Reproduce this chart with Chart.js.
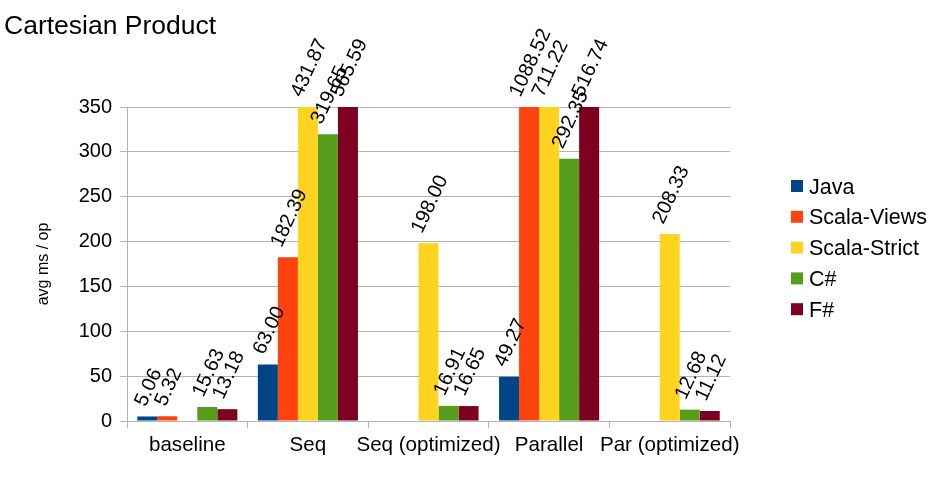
<!DOCTYPE html>
<html>
<head>
<meta charset="utf-8">
<script src="https://cdn.jsdelivr.net/npm/chart.js@4/dist/chart.umd.min.js"></script>
<style>
  html, body { margin: 0; padding: 0; background: #fff; }
  #wrap { width: 946px; height: 496px; }
</style>
</head>
<body>
<div id="wrap"><canvas id="chart" width="946" height="496"></canvas></div>
<script>
const categories = ['baseline', 'Seq', 'Seq (optimized)', 'Parallel', 'Par (optimized)'];
const seriesNames = ['Java', 'Scala-Views', 'Scala-Strict', 'C#', 'F#'];
const seriesColors = ['#004586', '#ff420e', '#ffd320', '#579d1c', '#7e0021'];
const javaValues = [5.06, 63.00, null, 49.27, null];
const scalaViewsValues = [5.32, 182.39, null, 1088.52, null];
const scalaStrictValues = [null, 431.87, 198.00, 711.22, 208.33];
const csharpValues = [15.63, 319.65, 16.91, 292.35, 12.68];
const fsharpValues = [13.18, 565.59, 16.65, 516.74, 11.12];
const yTicks = [0, 50, 100, 150, 200, 250, 300, 350];

const allValues = [javaValues, scalaViewsValues, scalaStrictValues, csharpValues, fsharpValues];
const FONT = "'Liberation Sans', Arial, sans-serif";
const GRID = '#b3b3b3';

// rotated value labels above each bar (clamped to the top of the plot)
const valueLabels = {
    id: 'valueLabels',
    afterDatasetsDraw(chart) {
        const ctx = chart.ctx;
        const area = chart.chartArea;
        const angle = 65 * Math.PI / 180;
        const capH = 20 * 0.716;
        ctx.save();
        ctx.font = '20px ' + FONT;
        ctx.fillStyle = '#000';
        chart.data.datasets.forEach((ds, di) => {
            const meta = chart.getDatasetMeta(di);
            meta.data.forEach((bar, i) => {
                const v = ds.data[i];
                if (v === null || v === undefined) return;
                const text = v.toFixed(2);
                const w = ctx.measureText(text).width;
                const h = w * Math.sin(angle) + capH * Math.cos(angle);
                const top = Math.max(bar.y, area.top);
                ctx.save();
                ctx.translate(bar.x, top - 9 - h / 2);
                ctx.rotate(-angle);
                ctx.textAlign = 'center';
                ctx.textBaseline = 'alphabetic';
                ctx.fillText(text, 0, capH / 2);
                ctx.restore();
            });
        });
        ctx.restore();
    }
};

// legend on the right, drawn from the series names and colours
const sideLegend = {
    id: 'sideLegend',
    afterDraw(chart) {
        const ctx = chart.ctx;
        ctx.save();
        ctx.font = '21.5px ' + FONT;
        ctx.textAlign = 'left';
        ctx.textBaseline = 'alphabetic';
        seriesNames.forEach((name, i) => {
            const cy = 186 + i * 30.8;
            ctx.fillStyle = seriesColors[i];
            ctx.fillRect(791, cy - 6, 12, 12);
            ctx.fillStyle = '#000';
            ctx.fillText(name, 809, cy + 7.5);
        });
        ctx.restore();
    }
};

new Chart(document.getElementById('chart').getContext('2d'), {
    type: 'bar',
    data: {
        labels: categories,
        datasets: seriesNames.map((name, i) => ({
            label: name,
            data: allValues[i],
            backgroundColor: seriesColors[i],
            borderWidth: 0,
            barPercentage: 1,
            categoryPercentage: 0.83
        }))
    },
    options: {
        responsive: false,
        animation: false,
        layout: { padding: { left: 4, right: 216, top: 0, bottom: 0 } },
        plugins: {
            legend: { display: false },
            tooltip: { enabled: false },
            title: {
                display: true,
                text: 'Cartesian Product',
                align: 'start',
                color: '#000',
                font: { family: FONT, size: 26.5, weight: 'normal' },
                padding: { top: 11, bottom: 64.2 }
            }
        },
        scales: {
            x: {
                grid: {
                    offset: true,
                    color: c => c.index === categories.length ? GRID : 'rgba(0,0,0,0)',
                    tickColor: GRID,
                    tickLength: 7
                },
                border: { color: GRID },
                ticks: { color: '#000', font: { family: FONT, size: 20.6 }, padding: 5, maxRotation: 0, autoSkip: false },
                afterFit: s => { s.height = 75; }
            },
            y: {
                min: 0,
                max: 350,
                afterBuildTicks: s => { s.ticks = yTicks.map(v => ({ value: v })); },
                grid: { color: GRID, tickColor: GRID, tickLength: 7 },
                border: { color: GRID },
                ticks: { color: '#000', font: { family: FONT, size: 20 }, padding: 8 },
                title: {
                    display: true,
                    text: 'avg ms / op',
                    color: '#000',
                    font: { family: FONT, size: 16 },
                    padding: { top: 30, bottom: 0 }
                },
                afterFit: s => { s.width = 123; }
            }
        }
    },
    plugins: [valueLabels, sideLegend]
});
</script>
</body>
</html>
